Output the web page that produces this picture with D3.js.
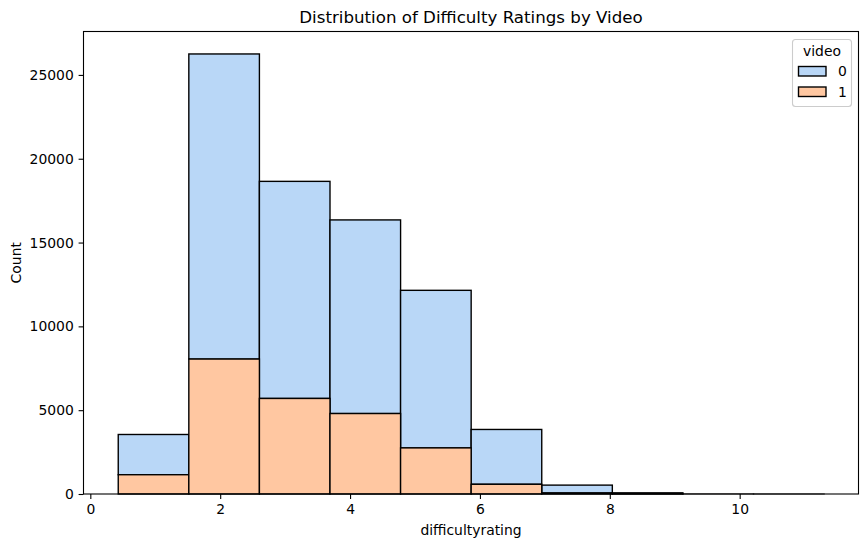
<!DOCTYPE html>
<html>

<head>
    <meta charset='utf-8'>
    <title>Distribution of Difficulty Ratings by Video</title>
    <script type='text/javascript' src='https://cdn.jsdelivr.net/npm/d3@7'></script>
    <style>
        html, body { margin: 0; padding: 0; background: #fff; }
        svg { display: block; }
        text { font-family: 'DejaVu Sans', sans-serif; fill: #000; }
    </style>
</head>

<body>
    <svg width='868' height='547'></svg>
    <script type='text/javascript'>

        // bin edges along difficultyrating
        const binEdges = [0.43, 1.517, 2.604, 3.691, 4.778, 5.865, 6.952, 8.039, 9.126, 10.213, 11.3]
        const video0 = [2400, 18200, 12950, 11550, 9400, 3270, 470, 50, 10, 3]
        const video1 = [1150, 8050, 5700, 4800, 2750, 580, 60, 20, 5, 2]
        const seriesNames = ['0', '1']
        const xTicks = [0, 2, 4, 6, 8, 10]
        const yTicks = [0, 5000, 10000, 15000, 20000, 25000]

        const svg = d3.select('svg')
        const margin = { top: 31.5, left: 83.5, bottom: 53, right: 9.5 }
        const width = parseInt(svg.attr('width'))
        const height = parseInt(svg.attr('height'))
        const colors = ['#b9d7f7', '#ffc7a1']

        const x = d3.scaleLinear().domain([-0.105, 11.83]).range([margin.left, width - margin.right])
        const y = d3.scaleLinear().domain([0, 27590]).range([height - margin.bottom, margin.top])

        // the nearly empty bins only show as a faint line above the axis
        const edgeOpacity = d => d.v0 + d.v1 < 20 ? 0.35 : 1

        // video 1 sits at the bottom, video 0 is stacked on it
        const bins = video0.map((v, i) => ({ x0: binEdges[i], x1: binEdges[i + 1], v0: v, v1: video1[i] }))
        const bars = svg.append('g').attr('stroke', '#000').attr('stroke-width', 1.39)

        bars.selectAll('rect.v0').data(bins).enter().append('rect')
            .attr('class', 'v0')
            .attr('fill', colors[0])
            .attr('stroke-opacity', edgeOpacity)
            .attr('x', d => x(d.x0))
            .attr('width', d => x(d.x1) - x(d.x0))
            .attr('y', d => y(d.v0 + d.v1))
            .attr('height', d => y(d.v1) - y(d.v0 + d.v1))

        bars.selectAll('rect.v1').data(bins).enter().append('rect')
            .attr('class', 'v1')
            .attr('fill', colors[1])
            .attr('stroke-opacity', edgeOpacity)
            .attr('x', d => x(d.x0))
            .attr('width', d => x(d.x1) - x(d.x0))
            .attr('y', d => y(d.v1))
            .attr('height', d => y(0) - y(d.v1))

        const xAxis = svg.append('g')
            .attr('transform', `translate(0, ${height - margin.bottom})`)
            .call(d3.axisBottom(x).tickValues(xTicks).tickFormat(d3.format('d')).tickSize(4.9).tickPadding(4.8))
        const yAxis = svg.append('g')
            .attr('transform', `translate(${margin.left}, 0)`)
            .call(d3.axisLeft(y).tickValues(yTicks).tickFormat(d3.format('d')).tickSize(4.9).tickPadding(4.8))

        for (const axis of [xAxis, yAxis]) {
            axis.select('.domain').remove()
            axis.selectAll('.tick line').attr('stroke', '#000').attr('stroke-width', 1.1)
            axis.selectAll('.tick text').attr('font-size', 13.9).attr('font-family', "'DejaVu Sans', sans-serif")
        }

        // frame of the plot area
        svg.append('rect')
            .attr('x', margin.left)
            .attr('y', margin.top)
            .attr('width', width - margin.left - margin.right)
            .attr('height', height - margin.top - margin.bottom)
            .attr('fill', 'none')
            .attr('stroke', '#000')
            .attr('stroke-width', 1.1)

        svg.append('text')
            .attr('x', (margin.left + width - margin.right) / 2)
            .attr('y', 23)
            .attr('text-anchor', 'middle')
            .attr('font-size', 16.67)
            .text('Distribution of Difficulty Ratings by Video')

        svg.append('text')
            .attr('x', (margin.left + width - margin.right) / 2)
            .attr('y', 535)
            .attr('text-anchor', 'middle')
            .attr('font-size', 13.9)
            .text('difficultyrating')

        svg.append('text')
            .attr('transform', `translate(21, ${(margin.top + height - margin.bottom) / 2}) rotate(-90)`)
            .attr('text-anchor', 'middle')
            .attr('font-size', 13.9)
            .text('Count')

        // legend
        const legend = svg.append('g')
        legend.append('rect')
            .attr('x', 792.5).attr('y', 39.5)
            .attr('width', 59).attr('height', 67).attr('rx', 3)
            .attr('fill', '#fff').attr('fill-opacity', 0.8)
            .attr('stroke', '#ccc').attr('stroke-width', 1.1)
        legend.append('text')
            .attr('x', 822).attr('y', 56)
            .attr('text-anchor', 'middle')
            .attr('font-size', 13.9)
            .text('video')
        seriesNames.forEach((name, i) => {
            legend.append('rect')
                .attr('x', 798.5).attr('y', 66.5 + i * 20.5)
                .attr('width', 27.5).attr('height', 9.5)
                .attr('fill', colors[i])
                .attr('stroke', '#000')
                .attr('stroke-width', 1.39)
            legend.append('text')
                .attr('x', 838).attr('y', 76.3 + i * 20.3)
                .attr('font-size', 13.9)
                .text(name)
        })
    </script>
</body>

</html>
